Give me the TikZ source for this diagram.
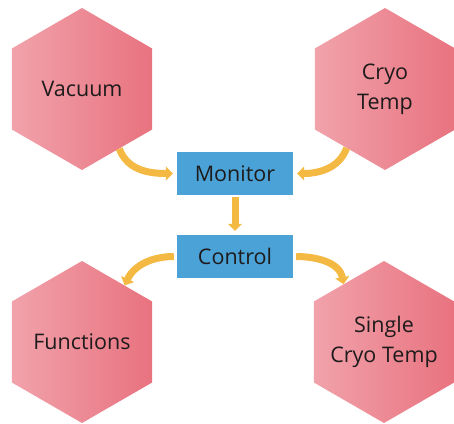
\documentclass[tikz,border=0pt]{standalone}
\usepackage{fontspec}
\setmainfont{Open Sans}
\usetikzlibrary{shapes.geometric,arrows.meta}

\definecolor{hexleft}{HTML}{F1A2AB}
\definecolor{hexright}{HTML}{E8737F}
\definecolor{boxblue}{HTML}{4BA2D6}
\definecolor{flowarrow}{HTML}{F4B942}
\definecolor{labeltext}{HTML}{1E1B1C}

\tikzset{
	hexnode/.style={regular polygon, regular polygon sides=6, shape border rotate=30,
		minimum size=162pt, inner sep=-30pt, left color=hexleft, right color=hexright,
		text=labeltext, align=center, font=\fontsize{21.5}{30}\selectfont},
	stagebox/.style={rectangle, fill=boxblue, minimum width=116pt, minimum height=43pt,
		inner sep=0pt, text=labeltext, font=\fontsize{21.5}{26}\selectfont},
	flow/.style={draw=flowarrow, line width=7pt, -{Triangle[length=7pt,width=14pt]}}
}

\begin{document}
\begin{tikzpicture}[x=1pt,y=1pt]
				\useasboundingbox (0,0) rectangle (454,423);
				% hexagons
				\node[hexnode] (vac) at (82,334) {Vacuum};
				\node[hexnode] (cryo) at (385,334) {Cryo\\Temp};
				\node[hexnode] (func) at (82,81) {Functions};
				\node[hexnode] (single) at (384,81) {Single\\Cryo Temp};
				% boxes
				\node[stagebox] (mon) at (235,249.5) {Monitor};
				\node[stagebox] (ctrl) at (235,166.5) {Control};
				% arrows
				\draw[flow, shorten >=4pt] (vac.-58) to[out=-70,in=180] (mon.west);
				\draw[flow, shorten >=4pt] (cryo.-123) to[out=-110,in=0] (mon.east);
				\draw[flow, shorten <=2pt, shorten >=4pt] (mon.south) -- (ctrl.north);
				\draw[flow, shorten <=3pt] (ctrl.west) to[out=180,in=65] (func.53);
				\draw[flow, shorten <=3pt] (ctrl.east) to[out=0,in=100] (single.125);
		\end{tikzpicture}
\end{document}
